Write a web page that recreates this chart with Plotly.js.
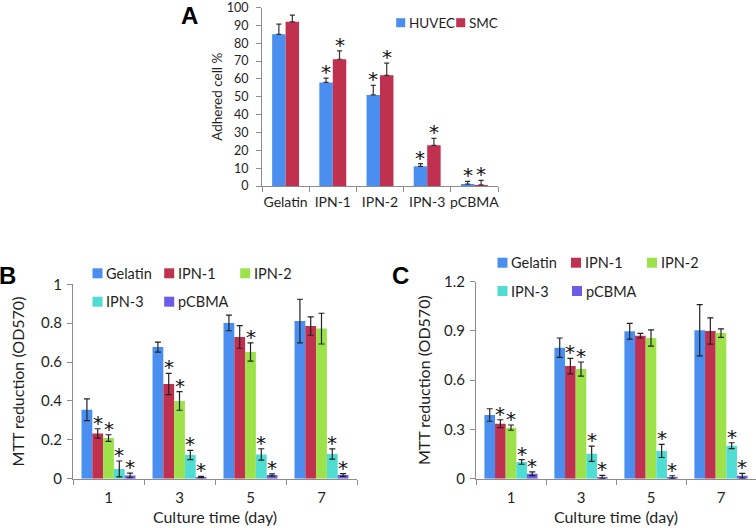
<!DOCTYPE html>
<html>
<head>
<meta charset="utf-8">
<script src="https://cdn.plot.ly/plotly-3.0.1.min.js"></script>
<style>html,body{margin:0;padding:0;background:#fff;}#chart{width:756px;height:528px;}</style>
</head>
<body>
<div id="chart"></div>
<script>
// ---------- Panel A data ----------
const catsA = ['Gelatin', 'IPN-1', 'IPN-2', 'IPN-3', 'pCBMA'];
const seriesA = ['HUVEC', 'SMC'];
const huvec = [85, 58, 51, 11, 1.1];
const huvecErr = [5.7, 2.4, 5.4, 1.5, 1.5];
const smc = [92, 71, 62, 22.8, 0.6];
const smcErr = [3.7, 4.7, 6.8, 3.9, 2.5];
const sigHuvec = [0, 1, 1, 1, 1];
const sigSmc = [0, 1, 1, 1, 1];

// ---------- Panel B / C shared ----------
const days = ['1', '3', '5', '7'];
const groupNames = ['Gelatin', 'IPN-1', 'IPN-2', 'IPN-3', 'pCBMA'];

// ---------- Panel B data ----------
const bGelatin = [0.355, 0.677, 0.801, 0.811];
const bGelatinErr = [0.056, 0.026, 0.040, 0.112];
const bIPN1 = [0.233, 0.487, 0.729, 0.785];
const bIPN1Err = [0.024, 0.055, 0.058, 0.047];
const bIPN2 = [0.209, 0.400, 0.652, 0.772];
const bIPN2Err = [0.017, 0.048, 0.047, 0.079];
const bIPN3 = [0.050, 0.122, 0.125, 0.127];
const bIPN3Err = [0.041, 0.024, 0.029, 0.026];
const bPCBMA = [0.017, 0.009, 0.019, 0.019];
const bPCBMAErr = [0.012, 0.003, 0.006, 0.007];
const bSigGelatin = [0, 0, 0, 0];
const bSigIPN1 = [1, 1, 0, 0];
const bSigIPN2 = [1, 1, 1, 0];
const bSigIPN3 = [1, 1, 1, 1];
const bSigPCBMA = [1, 1, 1, 1];

// ---------- Panel C data ----------
const cGelatin = [0.388, 0.798, 0.898, 0.904];
const cGelatinErr = [0.038, 0.059, 0.048, 0.156];
const cIPN1 = [0.335, 0.686, 0.871, 0.900];
const cIPN1Err = [0.024, 0.047, 0.014, 0.080];
const cIPN2 = [0.311, 0.668, 0.857, 0.887];
const cIPN2Err = [0.016, 0.043, 0.049, 0.026];
const cIPN3 = [0.102, 0.152, 0.169, 0.201];
const cIPN3Err = [0.014, 0.047, 0.040, 0.018];
const cPCBMA = [0.030, 0.010, 0.010, 0.018];
const cPCBMAErr = [0.011, 0.010, 0.008, 0.014];
const cSigGelatin = [0, 0, 0, 0];
const cSigIPN1 = [1, 1, 0, 0];
const cSigIPN2 = [1, 1, 0, 0];
const cSigIPN3 = [1, 1, 1, 1];
const cSigPCBMA = [1, 1, 1, 1];

// ---------- styles ----------
const colors = ['#4a8ff0', '#c0304f', '#9de24a', '#4fdcd3', '#6d5ce6'];
const FONT = 'Lato, "Liberation Sans", sans-serif';
const TXT = '#1f1f1f';
const AXC = '#8c8c8c';
const BARGAP = 0.24;
const A_W = 0.285;
const W = 756, H = 528;

// legend key placement: label start x and row centre y, in pixels
const legA = [[407.7, 22.7], [467.7, 22.7]];
const legB = [[105, 273.3], [176.7, 273.3], [252.7, 273.3], [105, 301.7], [176.7, 301.7]];
const legC = [[510, 262.7], [583.5, 262.7], [659.5, 262.7], [510, 291], [584.5, 291]];

const traces = [];
const annotations = [];
const shapes = [];

function legendKey(pos, name, color, fs, sw) {
  shapes.push({type: 'rect', xref: 'paper', yref: 'paper',
    x0: (pos[0] - 2.5 - sw) / W, x1: (pos[0] - 2.5) / W,
    y0: 1 - (pos[1] + sw / 2) / H, y1: 1 - (pos[1] - sw / 2) / H,
    fillcolor: color, line: {width: 0}});
  annotations.push({xref: 'paper', yref: 'paper', x: (pos[0] - 1) / W, y: 1 - pos[1] / H,
    xanchor: 'left', yanchor: 'middle', text: name, showarrow: false,
    font: {family: FONT, size: fs, color: TXT}});
}

function star(xref, yref, x, y) {
  annotations.push({
    xref: xref, yref: yref, x: x, y: y, text: '*', showarrow: false,
    yanchor: 'middle', yshift: 6, font: {family: '"DejaVu Sans", sans-serif', size: 20, color: '#111'}
  });
}

// Panel A traces
[[huvec, huvecErr, sigHuvec, -A_W], [smc, smcErr, sigSmc, 0]].forEach(function (s, k) {
  traces.push({
    type: 'bar', x: catsA, y: s[0], name: seriesA[k], xaxis: 'x', yaxis: 'y', showlegend: false,
    width: A_W, offset: s[3],
    marker: {color: colors[k], line: {width: 0}},
    error_y: {type: 'data', symmetric: false, array: s[1], arrayminus: s[1].map(function () { return 0; }),
              color: '#333', thickness: 1.2, width: 2.5}
  });
  legendKey(legA[k], seriesA[k], colors[k], 13.5, 9);
  s[2].forEach(function (f, i) {
    if (f) star('x', 'y', i + s[3] + A_W / 2, s[0][i] + s[1][i]);
  });
});

// Panels B and C
function addPanel(vals, errs, sigs, xa, ya, legPos) {
  const n = vals.length;
  const slot = (1 - BARGAP) / n;
  vals.forEach(function (v, j) {
    traces.push({
      type: 'bar', x: days, y: v, name: groupNames[j], xaxis: xa, yaxis: ya, showlegend: false,
      marker: {color: colors[j], line: {width: 0}},
      error_y: {type: 'data', array: errs[j], color: '#222', thickness: 1.2, width: 3}
    });
    legendKey(legPos[j], groupNames[j], colors[j], 14.5, 10);
    sigs[j].forEach(function (f, i) {
      if (f) star(xa, ya, i - (1 - BARGAP) / 2 + (j + 0.5) * slot, v[i] + errs[j][i]);
    });
  });
}
addPanel([bGelatin, bIPN1, bIPN2, bIPN3, bPCBMA],
         [bGelatinErr, bIPN1Err, bIPN2Err, bIPN3Err, bPCBMAErr],
         [bSigGelatin, bSigIPN1, bSigIPN2, bSigIPN3, bSigPCBMA], 'x2', 'y2', legB);
addPanel([cGelatin, cIPN1, cIPN2, cIPN3, cPCBMA],
         [cGelatinErr, cIPN1Err, cIPN2Err, cIPN3Err, cPCBMAErr],
         [cSigGelatin, cSigIPN1, cSigIPN2, cSigIPN3, cSigPCBMA], 'x3', 'y3', legC);

// panel letters
[['A', 189.5, 0], ['B', 7.5, 260], ['C', 400, 260]].forEach(function (p) {
  annotations.push({xref: 'paper', yref: 'paper', x: p[1] / W, y: 1 - p[2] / H,
    xanchor: 'center', yanchor: 'top', text: '<b>' + p[0] + '</b>', showarrow: false,
    font: {family: '"Liberation Sans", Arial, sans-serif', size: 24, color: '#000'}});
});

function xax(domain, fs, standoff, title) {
  const o = {domain: domain, type: 'category', showline: true, linecolor: AXC, linewidth: 1,
    ticks: 'outside', tickson: 'boundaries', ticklen: 5, tickcolor: AXC, showgrid: false,
    zeroline: false, tickangle: 0, tickfont: {family: FONT, size: fs, color: TXT}, ticklabelstandoff: standoff,
    ticklabeloverflow: 'allow', fixedrange: true};
  if (title) o.title = {text: title, font: {family: FONT, size: 16, color: TXT}, standoff: 7};
  return o;
}
function yax(domain, range, dtick, fs, title, tfs, standoff, ls) {
  return {domain: domain, range: range, dtick: dtick, showline: true, linecolor: AXC, linewidth: 1,
    ticks: 'outside', ticklen: 5, tickcolor: AXC, showgrid: false, zeroline: false,
    tickfont: {family: FONT, size: fs, color: TXT}, ticklabelstandoff: ls, ticklabeloverflow: 'allow',
    title: {text: title, font: {family: FONT, size: tfs, color: TXT}, standoff: standoff},
    fixedrange: true};
}

const layout = {
  width: W, height: H, margin: {l: 0, r: 0, t: 0, b: 0},
  paper_bgcolor: '#fff', plot_bgcolor: '#fff',
  barmode: 'group', bargap: BARGAP, bargroupgap: 0,
  font: {family: FONT, color: TXT},
  showlegend: false,
  xaxis: Object.assign(xax([262 / W, 498 / W], 14, 3), {anchor: 'y'}),
  yaxis: Object.assign(yax([1 - 186 / H, 1 - 7.5 / H], [0, 100], 10, 12.5, 'Adhered cell %', 13.5, 1, 5), {anchor: 'x'}),
  xaxis2: Object.assign(xax([73 / W, 357 / W], 15, 5, 'Culture time (day)'), {anchor: 'y2'}),
  yaxis2: Object.assign(yax([1 - 478.7 / H, 1 - 284.3 / H], [0, 1], 0.2, 15, 'MTT reduction (OD570)', 16, 12, 2), {anchor: 'x2'}),
  xaxis3: Object.assign(xax([476 / W, 1], 15, 5, 'Culture time (day)'), {anchor: 'y3'}),
  yaxis3: Object.assign(yax([1 - 478.7 / H, 1 - 281.7 / H], [0, 1.2], 0.3, 15, 'MTT reduction (OD570)', 16, 9, 2), {anchor: 'x3'}),
  shapes: shapes,
  annotations: annotations
};

Plotly.newPlot('chart', traces, layout, {displayModeBar: false, staticPlot: true});
</script>
</body>
</html>
